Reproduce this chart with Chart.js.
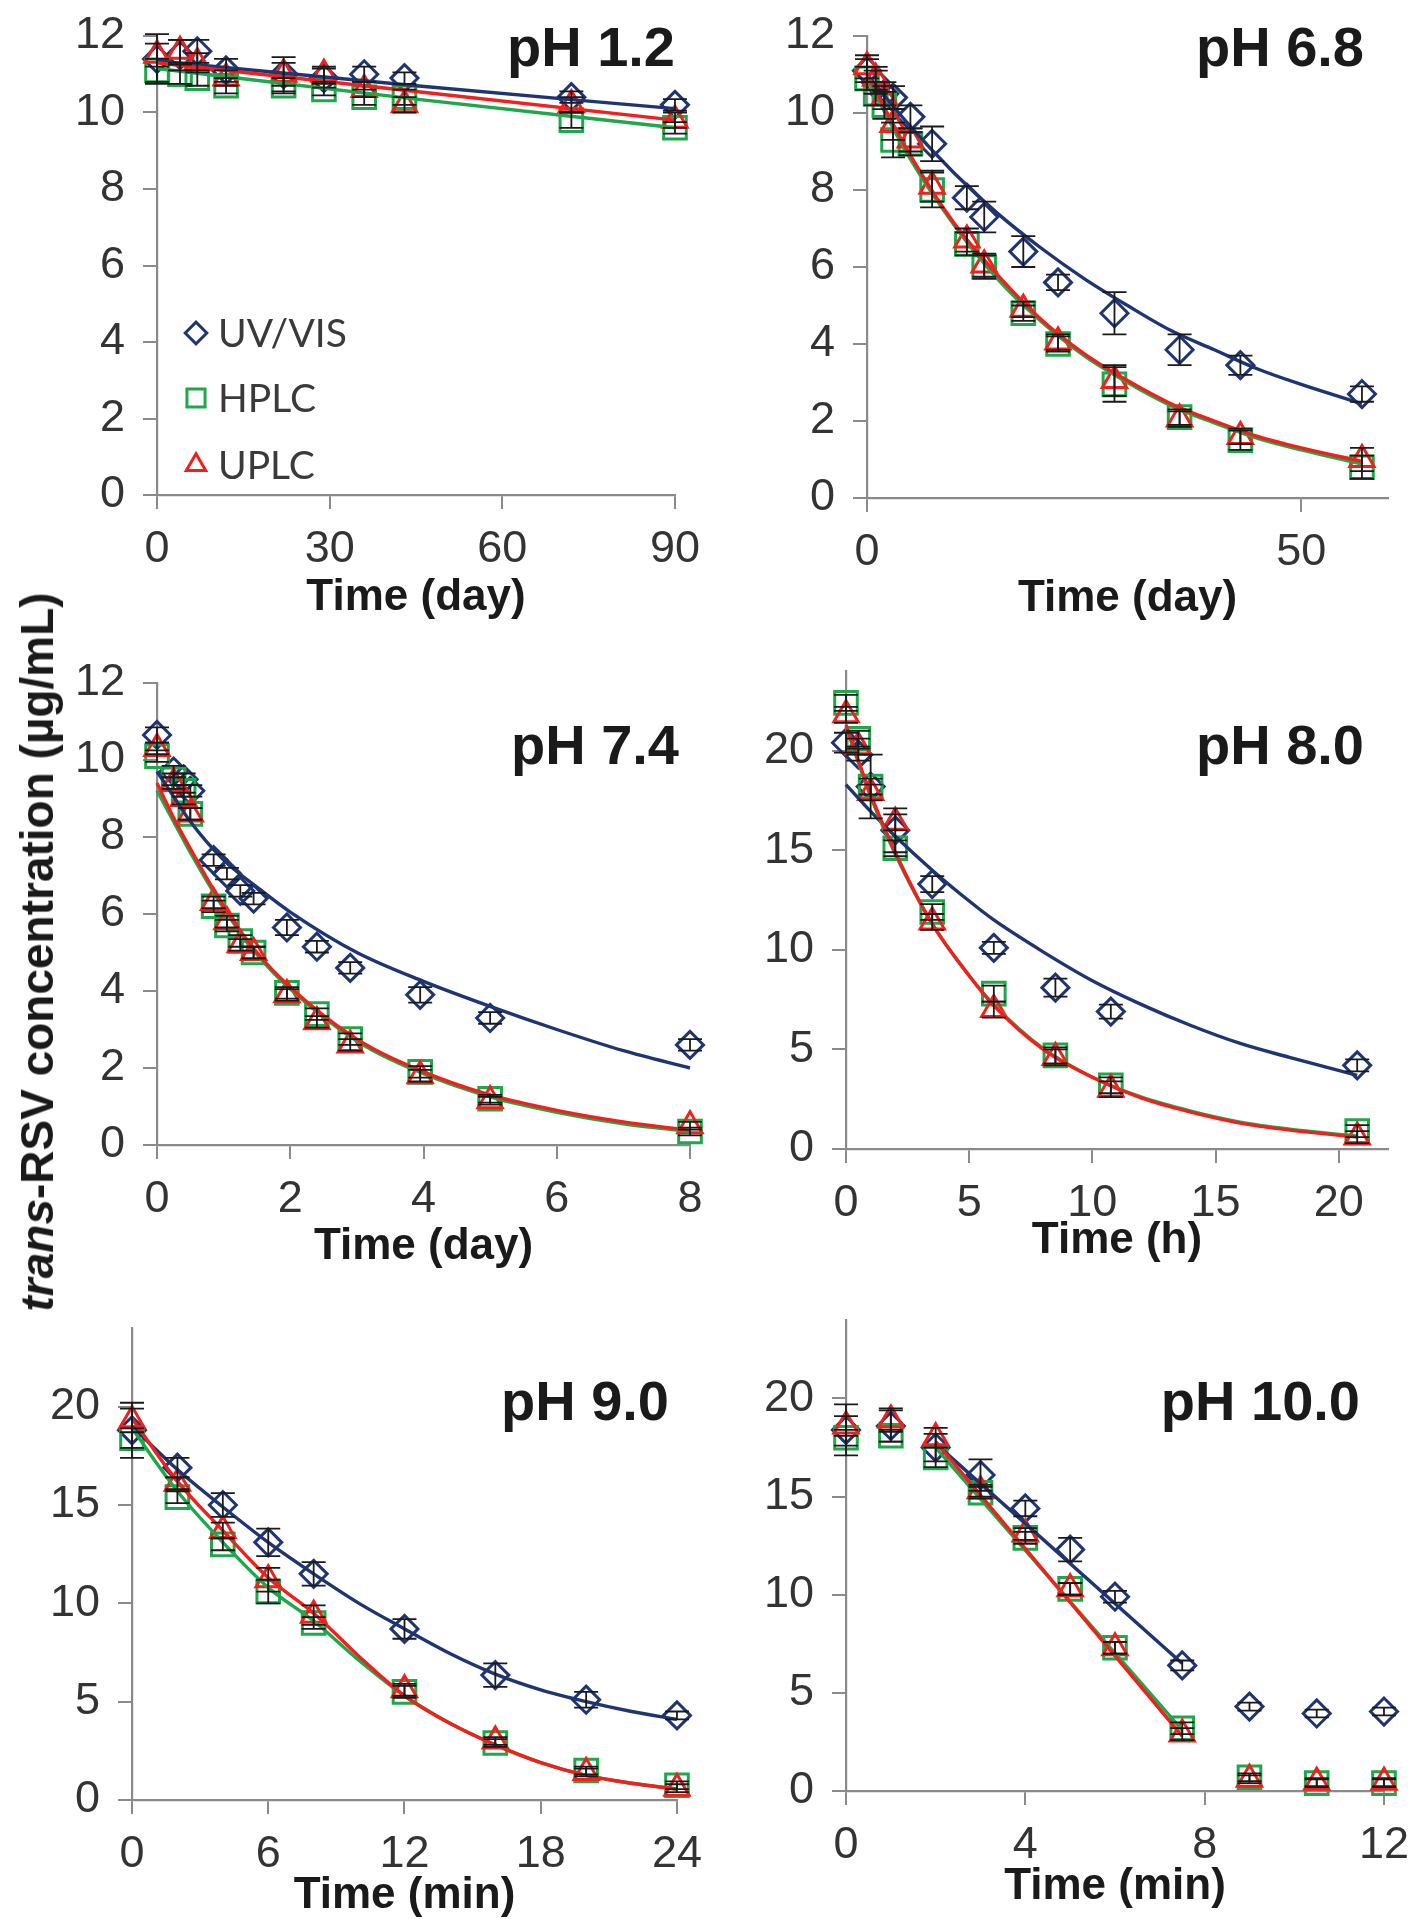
<!DOCTYPE html>
<html>
<head>
<meta charset="utf-8">
<script src="https://cdn.jsdelivr.net/npm/chart.js@4.4.0/dist/chart.umd.min.js"></script>
<style>
  html, body { margin: 0; padding: 0; background: #fff; }
  #page { position: relative; width: 1417px; height: 1919px; overflow: hidden; }
  canvas { position: absolute; }
  #ytitle {
    position: absolute; left: 37px; top: 952px;
    transform: translate(-50%, -50%) rotate(-90deg);
    font: bold 46px "Liberation Sans", Arial, sans-serif;
    white-space: nowrap; color: #1a1a1a; z-index: 2;
  }
</style>
</head>
<body>
<div id="page">
  <canvas id="c1"></canvas>
  <canvas id="c2"></canvas>
  <canvas id="c3"></canvas>
  <canvas id="c4"></canvas>
  <canvas id="c5"></canvas>
  <canvas id="c6"></canvas>
  <div id="ytitle"><i>trans</i>-RSV concentration (µg/mL)</div>
</div>
<script>
// ---- pH 1.2 (days)
const t1 = [0, 4, 7, 12, 22, 29, 36, 43, 72, 90];
const uv1 = [11.4, 11.5, 11.6, 11.1, 11.0, 10.9, 11.0, 10.9, 10.4, 10.2];
const uv1Err = [0.65, 0.4, 0.3, 0.3, 0.45, 0.25, 0.2, 0.15, 0.15, 0.15];
const hplc1 = [11.1, 11.0, 10.9, 10.7, 10.7, 10.6, 10.4, 10.4, 9.8, 9.6];
const hplc1Err = [0.3, 0.25, 0.2, 0.2, 0.2, 0.15, 0.2, 0.2, 0.2, 0.15];
const uplc1 = [11.5, 11.6, 11.3, 10.9, 11.0, 11.0, 10.6, 10.2, 10.2, 9.8];
const uplc1Err = [0.3, 0.3, 0.25, 0.2, 0.3, 0.2, 0.2, 0.2, 0.2, 0.2];
const fit1T = [0, 45, 90];
const fit1Uv = [11.35, 10.7, 10.1];
const fit1Hplc = [11.15, 10.35, 9.6];
const fit1Uplc = [11.3, 10.55, 9.8];

// ---- pH 6.8 (days)
const t2 = [0, 1, 2, 3, 5, 7.5, 11.5, 13.5, 18, 22, 28.5, 36, 43, 57];
const uv2 = [11.1, 10.8, 10.5, 10.4, 9.9, 9.2, 7.8, 7.3, 6.4, 5.6, 4.8, 3.85, 3.45, 2.7];
const uv2Err = [0.3, 0.3, 0.3, 0.3, 0.3, 0.45, 0.3, 0.4, 0.4, 0.2, 0.55, 0.4, 0.25, 0.2];
const hplc2 = [10.9, 10.5, 10.2, 9.3, 9.2, 8.0, 6.6, 6.0, 4.8, 4.0, 2.95, 2.1, 1.5, 0.8];
const hplc2Err = [0.3, 0.3, 0.35, 0.45, 0.3, 0.45, 0.3, 0.3, 0.2, 0.2, 0.45, 0.2, 0.25, 0.3];
const uplc2 = [11.2, 10.9, 10.4, 9.7, 9.3, 8.1, 6.7, 6.05, 4.9, 4.05, 3.05, 2.05, 1.6, 1.0];
const uplc2Err = [0.3, 0.3, 0.3, 0.4, 0.3, 0.4, 0.3, 0.3, 0.2, 0.2, 0.4, 0.2, 0.2, 0.3];
const fit2T = [0, 5, 10, 15, 20, 25, 30, 35, 40, 45, 50, 57];
const fit2Uv = [11.0, 9.65, 8.45, 7.4, 6.5, 5.7, 5.0, 4.35, 3.85, 3.35, 2.95, 2.45];
const fit2Hplc = [10.9, 8.8, 7.1, 5.7, 4.6, 3.7, 3.0, 2.4, 1.95, 1.55, 1.25, 0.88];
const fit2Uplc = [11.0, 8.9, 7.15, 5.8, 4.65, 3.75, 3.05, 2.45, 2.0, 1.6, 1.3, 0.95];

// ---- pH 7.4 (days)
const t3 = [0, 0.25, 0.4, 0.5, 0.85, 1.05, 1.25, 1.45, 1.95, 2.4, 2.9, 3.95, 5, 8];
const uv3 = [10.65, 9.7, 9.5, 9.2, 7.4, 7.05, 6.6, 6.4, 5.65, 5.15, 4.6, 3.9, 3.3, 2.6];
const uv3Err = [0.2, 0.15, 0.15, 0.15, 0.15, 0.15, 0.15, 0.15, 0.2, 0.15, 0.15, 0.2, 0.15, 0.15];
const hplc3 = [10.1, 9.5, 9.2, 8.6, 6.2, 5.7, 5.3, 5.0, 3.95, 3.4, 2.75, 1.9, 1.2, 0.35];
const hplc3Err = [0.15, 0.15, 0.15, 0.15, 0.15, 0.15, 0.15, 0.15, 0.15, 0.15, 0.15, 0.15, 0.1, 0.1];
const uplc3 = [10.3, 9.4, 9.0, 8.6, 6.3, 5.8, 5.2, 5.0, 3.9, 3.2, 2.6, 1.8, 1.15, 0.5];
const uplc3Err = [0.15, 0.15, 0.15, 0.15, 0.15, 0.15, 0.15, 0.15, 0.15, 0.15, 0.15, 0.15, 0.1, 0.1];
const fit3T = [0, 0.25, 0.5, 1, 1.5, 2, 3, 4, 5, 6, 7, 8];
const fit3Uv = [9.7, 9.05, 8.4, 7.4, 6.7, 6.05, 5.0, 4.25, 3.6, 3.0, 2.45, 2.0];
const fit3Hplc = [9.2, 8.4, 7.6, 6.15, 4.95, 4.05, 2.7, 1.85, 1.25, 0.85, 0.55, 0.35];
const fit3Uplc = [9.4, 8.5, 7.7, 6.2, 5.0, 4.1, 2.75, 1.9, 1.3, 0.9, 0.6, 0.38];

// ---- pH 8.0 (hours)
const t4 = [0, 0.5, 1, 2, 3.5, 6, 8.5, 10.75, 20.75];
const uv4 = [20.4, 19.8, 18.2, 16.0, 13.3, 10.1, 8.1, 6.9, 4.2];
const uv4Err = [0.5, 0.3, 1.6, 1.1, 0.4, 0.3, 0.45, 0.35, 0.3];
const hplc4 = [22.4, 20.6, 18.2, 15.1, 11.9, 7.8, 4.7, 3.2, 0.9];
const hplc4Err = [0.4, 0.4, 0.4, 0.4, 0.4, 0.4, 0.4, 0.4, 0.3];
const uplc4 = [21.8, 20.2, 17.9, 16.4, 11.4, 7.0, 4.6, 3.0, 0.6];
const uplc4Err = [0.4, 0.4, 0.4, 0.4, 0.4, 0.4, 0.4, 0.4, 0.3];
const fit4T = [0, 1, 2, 3.5, 5, 6, 8, 10, 12, 14, 16, 18, 20.75];
const fit4Uv = [18.3, 16.95, 15.7, 14.0, 12.45, 11.5, 9.9, 8.45, 7.25, 6.2, 5.3, 4.6, 3.7];
const fit4Hplc = [21.2, 17.7, 14.8, 11.3, 8.7, 7.25, 5.05, 3.6, 2.6, 1.9, 1.35, 1.0, 0.65];
const fit4Uplc = [21.3, 17.8, 14.9, 11.3, 8.7, 7.2, 5.0, 3.6, 2.55, 1.85, 1.3, 0.95, 0.6];

// ---- pH 9.0 (min)
const t5 = [0, 2, 4, 6, 8, 12, 16, 20, 24];
const uv5 = [18.8, 16.9, 15.0, 13.1, 11.5, 8.7, 6.35, 5.1, 4.3];
const uv5Err = [1.4, 0.5, 0.6, 0.7, 0.6, 0.5, 0.6, 0.4, 0.2];
const hplc5 = [18.4, 15.4, 13.0, 10.6, 9.0, 5.5, 2.9, 1.5, 0.75];
const hplc5Err = [0.5, 0.3, 0.3, 0.6, 0.3, 0.3, 0.2, 0.2, 0.2];
const uplc5 = [19.3, 16.1, 13.7, 11.2, 9.4, 5.6, 3.0, 1.4, 0.6];
const uplc5Err = [0.6, 0.3, 0.4, 0.6, 0.5, 0.3, 0.2, 0.2, 0.2];
const fit5T = [0, 2, 4, 6, 8, 10, 12, 14, 16, 18, 20, 22, 24];
const fit5Uv = [19.0, 16.8, 14.9, 13.1, 11.5, 10.0, 8.7, 7.45, 6.4, 5.6, 5.0, 4.5, 4.1];
const fit5Hplc = [18.9, 15.7, 13.1, 10.8, 9.1, 7.1, 5.3, 3.9, 2.8, 1.9, 1.25, 0.85, 0.55];
const fit5Uplc = [19.4, 16.2, 13.7, 11.3, 9.5, 7.3, 5.3, 3.9, 2.8, 1.9, 1.25, 0.85, 0.55];

// ---- pH 10.0 (min)
const t6 = [0, 1, 2, 3, 4, 5, 6, 7.5, 9, 10.5, 12];
const uv6 = [18.4, 18.6, 17.5, 16.1, 14.4, 12.3, 9.9, 6.4, 4.3, 3.95, 4.05];
const uv6Err = [1.3, 0.8, 0.7, 0.8, 0.4, 0.6, 0.3, 0.25, 0.2, 0.2, 0.2];
const hplc6 = [18.0, 18.1, 17.0, 15.2, 12.9, 10.3, 7.3, 3.2, 0.7, 0.4, 0.4];
const hplc6Err = [0.4, 0.3, 0.5, 0.3, 0.3, 0.3, 0.3, 0.3, 0.2, 0.2, 0.2];
const uplc6 = [18.6, 18.9, 18.0, 15.3, 13.1, 10.3, 7.3, 2.9, 0.6, 0.45, 0.45];
const uplc6Err = [0.5, 0.6, 0.5, 0.3, 0.3, 0.3, 0.3, 0.3, 0.2, 0.2, 0.2];
const fit6T = [2, 7.5];
const fit6Uv = [17.7, 6.5];
const fit6Hplc = [17.5, 3.1];
const fit6Uplc = [17.8, 2.8];

const yTicks12 = [0, 2, 4, 6, 8, 10, 12];
const yTicks24 = [0, 5, 10, 15, 20];

const BLUE = "#1f3572";
const GREEN = "#1fa84b";
const RED = "#f2201c";
const AXIS = "#8a8a8a";
const FONT = '"Liberation Sans", Arial, sans-serif';

function pts(xs, ys) {
  return xs.map((x, i) => ({ x: x, y: ys[i] }));
}

// vertical error bars, drawn from the dataset's errors array
const errorBars = {
  id: "errorBars",
  afterDatasetsDraw(chart) {
    const { ctx } = chart;
    const xs = chart.scales.x, ys = chart.scales.y;
    ctx.save();
    ctx.strokeStyle = "#1a1a1a";
    ctx.lineWidth = 1.8;
    chart.data.datasets.forEach((ds) => {
      if (!ds.errors) return;
      ds.data.forEach((p, j) => {
        const e = ds.errors[j];
        if (!e) return;
        const px = xs.getPixelForValue(p.x);
        const y1 = ys.getPixelForValue(p.y + e);
        const y2 = ys.getPixelForValue(p.y - e);
        ctx.beginPath();
        ctx.moveTo(px, y1); ctx.lineTo(px, y2);
        ctx.moveTo(px - 12, y1); ctx.lineTo(px + 12, y1);
        ctx.moveTo(px - 12, y2); ctx.lineTo(px + 12, y2);
        ctx.stroke();
      });
    });
    ctx.restore();
  },
};

// "pH x" label in the top right corner of the plot
const panelLabel = {
  id: "panelLabel",
  afterDraw(chart, args, opts) {
    if (!opts.text) return;
    const { ctx, chartArea } = chart;
    ctx.save();
    ctx.font = "bold 56px " + FONT;
    ctx.fillStyle = "#1a1a1a";
    ctx.textAlign = "right";
    ctx.textBaseline = "middle";
    ctx.fillText(opts.text, chartArea.right - opts.dx, chartArea.top + opts.dy);
    ctx.restore();
  },
};

// legend placed inside the plot (only pH 1.2 has one)
const insideLegend = {
  id: "insideLegend",
  afterDraw(chart, args, opts) {
    if (!opts.items) return;
    const { ctx, chartArea } = chart;
    ctx.save();
    opts.items.forEach((it) => {
      const ds = chart.data.datasets.find((d) => d.label === it.label);
      const x = chartArea.left + it.dx;
      const y = chartArea.top + it.dy;
      ctx.strokeStyle = ds.borderColor;
      ctx.fillStyle = "rgba(0,0,0,0)";
      ctx.lineWidth = ds.borderWidth;
      Chart.helpers.drawPoint(ctx, {
        pointStyle: ds.pointStyle,
        radius: ds.pointRadius * 0.8,
        borderWidth: ds.borderWidth,
        rotation: 0,
      }, x, y);
      ctx.font = '39px Lato, "Open Sans", sans-serif';
      ctx.fillStyle = "#3a3a3a";
      ctx.textBaseline = "middle";
      ctx.fillText(it.label, x + 22, y + 1);
    });
    ctx.restore();
  },
};

function markers(label, xs, ys, errs, color, style, radius) {
  return {
    label: label,
    data: pts(xs, ys),
    errors: errs,
    showLine: false,
    pointStyle: style,
    pointRadius: radius,
    borderColor: color,
    backgroundColor: "rgba(0,0,0,0)",
    borderWidth: 3,
    clip: false,
  };
}

function fitLine(xs, ys, color) {
  return {
    data: pts(xs, ys),
    showLine: true,
    pointRadius: 0,
    borderColor: color,
    borderWidth: 3.4,
    cubicInterpolationMode: "monotone",
    clip: false,
  };
}

function makePanel(id, box, p) {
  const yW = 120, xH = 135, padT = 45, padR = 35;
  const cv = document.getElementById(id);
  const w = box.r - box.l + yW + padR;
  const h = box.b - box.t + padT + xH;
  cv.width = w;
  cv.height = h;
  cv.style.width = w + "px";
  cv.style.height = h + "px";
  cv.style.left = box.l - yW + "px";
  cv.style.top = box.t - padT + "px";

  const tickFont = { family: FONT, size: 45 };
  return new Chart(cv, {
    type: "scatter",
    data: {
      datasets: [
        fitLine(p.fitT, p.fitUplc, RED),
        fitLine(p.fitT, p.fitHplc, GREEN),
        fitLine(p.fitT, p.fitUv, BLUE),
        markers("UPLC", p.t, p.uplc, p.uplcErr, RED, "triangle", 14),
        markers("HPLC", p.t, p.hplc, p.hplcErr, GREEN, "rect", 16),
        markers("UV/VIS", p.t, p.uv, p.uvErr, BLUE, "rectRot", 13.5),
      ],
    },
    options: {
      responsive: false,
      animation: false,
      devicePixelRatio: 1,
      layout: { padding: { top: padT, right: padR, left: 0, bottom: 0 } },
      plugins: {
        legend: { display: false },
        tooltip: { enabled: false },
        panelLabel: { text: p.label, dx: p.labelDx, dy: p.labelDy },
        insideLegend: { items: p.legend },
      },
      scales: {
        x: {
          type: "linear",
          min: 0,
          max: p.xMax,
          afterFit: (s) => { s.height = xH; },
          afterBuildTicks: (s) => { s.ticks = p.xTicks.map((v) => ({ value: v })); },
          border: { display: true, color: AXIS, width: 2.2 },
          grid: { display: true, drawOnChartArea: false, drawTicks: true, tickLength: 14, tickColor: AXIS, lineWidth: 2 },
          ticks: { font: tickFont, color: "#333", padding: 14, maxRotation: 0 },
          title: {
            display: true,
            text: p.xTitle,
            color: "#1a1a1a",
            font: { family: FONT, size: 44, weight: "bold" },
            padding: { top: 0, bottom: xH - 26 - p.titleOffset },
          },
        },
        y: {
          type: "linear",
          min: 0,
          max: p.yMax,
          afterFit: (s) => { s.width = yW; },
          afterBuildTicks: (s) => { s.ticks = p.yTicks.map((v) => ({ value: v })); },
          border: { display: true, color: AXIS, width: 2.2 },
          grid: { display: true, drawOnChartArea: false, drawTicks: true, tickLength: 14, tickColor: AXIS, lineWidth: 2 },
          ticks: { font: tickFont, color: "#333", padding: 18 },
        },
      },
    },
    plugins: [errorBars, panelLabel, insideLegend],
  });
}

makePanel("c1", { l: 157, r: 679, t: 36, b: 495 }, {
  t: t1, uv: uv1, uvErr: uv1Err, hplc: hplc1, hplcErr: hplc1Err, uplc: uplc1, uplcErr: uplc1Err,
  fitT: fit1T, fitUv: fit1Uv, fitHplc: fit1Hplc, fitUplc: fit1Uplc,
  xMax: 90, xTicks: [0, 30, 60, 90], yMax: 12, yTicks: yTicks12,
  xTitle: "Time (day)", titleOffset: 103, label: "pH 1.2", labelDx: 0, labelDy: 15,
  legend: [
    { label: "UV/VIS", dx: 39, dy: 297 },
    { label: "HPLC", dx: 39, dy: 362 },
    { label: "UPLC", dx: 39, dy: 429 },
  ],
});

makePanel("c2", { l: 867, r: 1388, t: 36, b: 498 }, {
  t: t2, uv: uv2, uvErr: uv2Err, hplc: hplc2, hplcErr: hplc2Err, uplc: uplc2, uplcErr: uplc2Err,
  fitT: fit2T, fitUv: fit2Uv, fitHplc: fit2Hplc, fitUplc: fit2Uplc,
  xMax: 60, xTicks: [0, 50], yMax: 12, yTicks: yTicks12,
  xTitle: "Time (day)", titleOffset: 101, label: "pH 6.8", labelDx: 24, labelDy: 15,
});

makePanel("c3", { l: 157, r: 690, t: 683, b: 1145 }, {
  t: t3, uv: uv3, uvErr: uv3Err, hplc: hplc3, hplcErr: hplc3Err, uplc: uplc3, uplcErr: uplc3Err,
  fitT: fit3T, fitUv: fit3Uv, fitHplc: fit3Hplc, fitUplc: fit3Uplc,
  xMax: 8, xTicks: [0, 2, 4, 6, 8], yMax: 12, yTicks: yTicks12,
  xTitle: "Time (day)", titleOffset: 102, label: "pH 7.4", labelDx: 11, labelDy: 66,
});

makePanel("c4", { l: 846, r: 1388, t: 671, b: 1149 }, {
  t: t4, uv: uv4, uvErr: uv4Err, hplc: hplc4, hplcErr: hplc4Err, uplc: uplc4, uplcErr: uplc4Err,
  fitT: fit4T, fitUv: fit4Uv, fitHplc: fit4Hplc, fitUplc: fit4Uplc,
  xMax: 22, xTicks: [0, 5, 10, 15, 20], yMax: 24, yTicks: yTicks24,
  xTitle: "Time (h)", titleOffset: 92, label: "pH 8.0", labelDx: 24, labelDy: 78,
});

makePanel("c5", { l: 132, r: 681, t: 1328, b: 1800 }, {
  t: t5, uv: uv5, uvErr: uv5Err, hplc: hplc5, hplcErr: hplc5Err, uplc: uplc5, uplcErr: uplc5Err,
  fitT: fit5T, fitUv: fit5Uv, fitHplc: fit5Hplc, fitUplc: fit5Uplc,
  xMax: 24, xTicks: [0, 6, 12, 18, 24], yMax: 24, yTicks: yTicks24,
  xTitle: "Time (min)", titleOffset: 96, label: "pH 9.0", labelDx: 8, labelDy: 77,
});

makePanel("c6", { l: 846, r: 1388, t: 1320, b: 1791 }, {
  t: t6, uv: uv6, uvErr: uv6Err, hplc: hplc6, hplcErr: hplc6Err, uplc: uplc6, uplcErr: uplc6Err,
  fitT: fit6T, fitUv: fit6Uv, fitHplc: fit6Hplc, fitUplc: fit6Uplc,
  xMax: 12, xTicks: [0, 4, 8, 12], yMax: 24, yTicks: yTicks24,
  xTitle: "Time (min)", titleOffset: 96, label: "pH 10.0", labelDx: 24, labelDy: 85,
});
</script>
</body>
</html>
